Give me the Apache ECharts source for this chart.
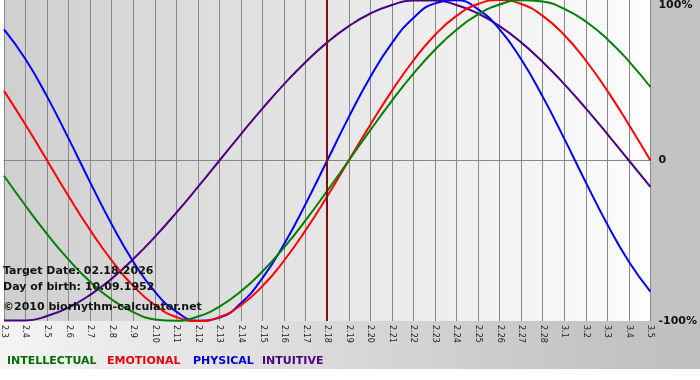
<!DOCTYPE html>
<html><head><meta charset="utf-8">
<script src="https://cdn.jsdelivr.net/npm/echarts@6/dist/echarts.min.js"></script>
<style>html,body{margin:0;padding:0;background:#fff}#c{width:700px;height:380px}</style>
</head><body><div id="c"></div>
<script>
const dates = ['2.3','2.4','2.5','2.6','2.7','2.8','2.9','2.10','2.11','2.12','2.13','2.14','2.15','2.16','2.17','2.18','2.19','2.20','2.21','2.22','2.23','2.24','2.25','2.26','2.27','2.28','3.1','3.2','3.3','3.4','3.5'];
const intellectual = [-9.5,-28.2,-45.8,-61.8,-75.6,-86.6,-94.5,-99.0,-99.9,-97.2,-91.0,-81.5,-69.0,-54.1,-37.2,-18.9,0,18.9,37.2,54.1,69.0,81.5,91.0,97.2,99.9,99.0,94.5,86.6,75.6,61.8,45.8];
const emotional = [43.4,22.3,0,-22.3,-43.4,-62.3,-78.2,-90.1,-97.5,-100,-97.5,-90.1,-78.2,-62.3,-43.4,-22.3,0,22.3,43.4,62.3,78.2,90.1,97.5,100,97.5,90.1,78.2,62.3,43.4,22.3,0];
const physical = [81.7,63.1,39.8,13.6,-13.6,-39.8,-63.1,-81.7,-94.2,-99.8,-97.9,-88.8,-73.1,-52.0,-27.0,0,27.0,52.0,73.1,88.8,97.9,99.8,94.2,81.7,63.1,39.8,13.6,-13.6,-39.8,-63.1,-81.7];
const intuitive = [-99.7,-99.7,-96.9,-91.6,-83.7,-73.6,-61.4,-47.6,-32.5,-16.5,0,16.5,32.5,47.6,61.4,73.6,83.7,91.6,96.9,99.7,99.7,96.9,91.6,83.7,73.6,61.4,47.6,32.5,16.5,0,-16.5];
const targetDate = '2.18';
const infoLines = ['Target Date: 02.18.2026', 'Day of birth: 10.09.1952', '\u00a92010 biorhythm-calculator.net'];
const legendNames = ['INTELLECTUAL', 'EMOTIONAL', 'PHYSICAL', 'INTUITIVE'];

const colors = {int:'#008000', emo:'#ff0000', phy:'#0000ff', itu:'#4b0082'};
const legendColors = ['#006e00', '#e8000c', '#0000cc', '#4b0082'];
const legendX = [7, 107, 193, 262];
const infoY = [271, 287, 307];
const boldFont = 'bold 11px "DejaVu Sans"';

const chart = echarts.init(document.getElementById('c'), null, {renderer: 'canvas'});

function lineSeries(name, data, color, extra) {
  return Object.assign({
    name, type: 'line', data, smooth: true, symbol: 'none',
    lineStyle: {color, width: 2}, itemStyle: {color}
  }, extra || {});
}

const graphics = [
  {type: 'rect', z: -10, shape: {x: 651, y: 0, width: 49, height: 321}, style: {fill: '#c3c3c3'}},
  {type: 'rect', z: -10, shape: {x: 0, y: 321, width: 700, height: 48},
   style: {fill: new echarts.graphic.LinearGradient(0, 0, 1, 0, [{offset: 0, color: '#f4f4f4'}, {offset: 0.85, color: '#c4c4c4'}, {offset: 1, color: '#c0c0c0'}])}}
];
infoLines.forEach((t, i) => graphics.push({
  type: 'text', z: 100, style: {text: t, x: 3, y: infoY[i], font: boldFont, fill: '#111', textVerticalAlign: 'middle', verticalAlign: 'middle'}
}));
legendNames.forEach((t, i) => graphics.push({
  type: 'text', z: 100, style: {text: t, x: legendX[i], y: 361, font: boldFont, fill: legendColors[i], textVerticalAlign: 'middle', verticalAlign: 'middle'}
}));

chart.setOption({
  animation: false,
  backgroundColor: '#ffffff',
  grid: {left: 1, right: 49, top: 0, bottom: 59, show: true, borderWidth: 0,
    backgroundColor: new echarts.graphic.LinearGradient(0, 0, 1, 0, [{offset: 0, color: '#cfcfcf'}, {offset: 1, color: '#fdfdfd'}])},
  xAxis: {
    type: 'category', data: dates, boundaryGap: false,
    axisLine: {show: true, lineStyle: {color: '#888', width: 1}},
    axisTick: {show: true, length: 4, lineStyle: {color: '#888'}},
    axisLabel: {rotate: -90, margin: 4, interval: 0, fontSize: 8, fontFamily: 'DejaVu Sans', color: '#222'},
    splitLine: {show: true, interval: 0, lineStyle: {color: '#888', width: 1}}
  },
  yAxis: {
    type: 'value', min: -100, max: 100, interval: 100, position: 'right',
    axisLine: {show: false}, axisTick: {show: false},
    axisLabel: {margin: 8, fontFamily: 'DejaVu Sans', fontWeight: 'bold', fontSize: 11, color: '#111',
      verticalAlignMaxLabel: 'top',
      formatter: v => v === 0 ? '0' : v + '%'},
    splitLine: {show: true, lineStyle: {color: ['rgba(0,0,0,0)', '#888', 'rgba(0,0,0,0)'], width: 1}}
  },
  graphic: graphics,
  series: [
    lineSeries('INTUITIVE', intuitive, colors.itu),
    lineSeries('PHYSICAL', physical, colors.phy),
    lineSeries('EMOTIONAL', emotional, colors.emo),
    lineSeries('INTELLECTUAL', intellectual, colors.int, {
      markLine: {silent: true, symbol: 'none', label: {show: false},
        lineStyle: {color: '#7a0f0f', width: 2, type: 'solid'},
        data: [{xAxis: targetDate}]}
    })
  ]
});
</script>
</body></html>
